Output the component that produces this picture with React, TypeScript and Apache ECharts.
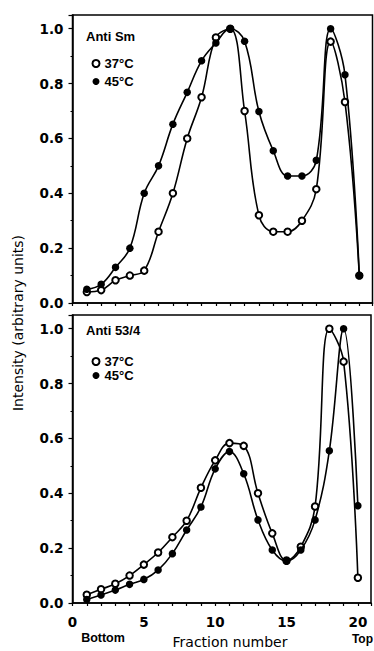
import React, { useEffect, useRef } from 'react';
import * as echarts from 'echarts';

// ---- data ----
const fractions = [1, 2, 3, 4, 5, 6, 7, 8, 9, 10, 11, 12, 13, 14, 15, 16, 17, 18, 19, 20];
const xTickLabels = ['0', '5', '10', '15', '20'];
const yTickLabels = ['0.0', '0.2', '0.4', '0.6', '0.8', '1.0'];
const seriesNames = ['37°C', '45°C'];
const panelTitles = ['Anti Sm', 'Anti 53/4'];

// Anti Sm panel
const sm37 = [0.04, 0.047, 0.083, 0.10, 0.118, 0.26, 0.40, 0.60, 0.75, 0.968, 1.0, 0.70, 0.32, 0.26, 0.26, 0.30, 0.415, 0.953, 0.733, 0.10];
const sm45 = [0.05, 0.068, 0.13, 0.20, 0.40, 0.50, 0.652, 0.768, 0.883, 0.948, 1.0, 0.954, 0.698, 0.555, 0.463, 0.463, 0.52, 1.0, 0.832, 0.10];

// Anti 53/4 panel
const a37 = [0.03, 0.05, 0.07, 0.10, 0.14, 0.184, 0.24, 0.30, 0.42, 0.52, 0.583, 0.573, 0.40, 0.254, 0.155, 0.205, 0.352, 1.0, 0.88, 0.092];
const a45 = [0.013, 0.029, 0.047, 0.068, 0.086, 0.12, 0.18, 0.266, 0.35, 0.489, 0.552, 0.471, 0.303, 0.193, 0.152, 0.193, 0.303, 0.555, 1.0, 0.355];

const pairs = (ys: number[]) => fractions.map((x, i) => [x, ys[i]]);

const TICK_FONT = '"DejaVu Sans", sans-serif';
const TEXT_FONT = '"Liberation Sans", Arial, sans-serif';

function buildOption() {
  const grids = [
    { left: 72.5, top: 15, width: 300, height: 288 },
    { left: 72.5, top: 315, width: 300, height: 288 },
  ].map((g) => ({ ...g, show: true, borderColor: '#000', borderWidth: 1.5, backgroundColor: 'transparent' }));

  const xAxes = [0, 1].map((gi) => ({
    type: 'value',
    gridIndex: gi,
    min: 0,
    max: 20.92,
    interval: 1,
    axisLine: { show: true, lineStyle: { color: '#000', width: 1.5 } },
    axisTick: { show: true, inside: false, length: 3, lineStyle: { color: '#000', width: 1.2 } },
    splitLine: { show: false },
    axisLabel: {
      show: gi === 1,
      margin: 12,
      color: '#000',
      fontFamily: TICK_FONT,
      fontWeight: 'bold',
      fontSize: 13.5,
      formatter: (v: number) => (xTickLabels.includes(String(v)) ? String(v) : ''),
    },
  }));

  const yAxes: any[] = [];
  [0, 1].forEach((gi) => {
    yAxes.push({
      type: 'value',
      gridIndex: gi,
      position: 'left',
      min: 0,
      max: 1.05,
      interval: 0.2,
      axisLine: { show: true, lineStyle: { color: '#000', width: 1.5 } },
      axisTick: { show: true, inside: false, length: 4, lineStyle: { color: '#000', width: 1.2 } },
      splitLine: { show: false },
      axisLabel: {
        margin: 9,
        color: '#000',
        fontFamily: TICK_FONT,
        fontWeight: 'bold',
        fontSize: 13.5,
        formatter: (v: number) => {
          const s = v.toFixed(1);
          return yTickLabels.includes(s) && Math.abs(parseFloat(s) - v) < 1e-6 ? s : '';
        },
      },
    });
    yAxes.push({
      type: 'value',
      gridIndex: gi,
      position: 'left',
      min: 0,
      max: 1.05,
      interval: 0.1,
      axisLine: { show: false },
      axisTick: { show: true, inside: false, length: 2, lineStyle: { color: '#000', width: 1 } },
      splitLine: { show: false },
      axisLabel: { show: false },
    });
  });

  const panels = [
    [sm37, sm45],
    [a37, a45],
  ];
  const series: any[] = [];
  panels.forEach((pair, gi) => {
    pair.forEach((ys, si) => {
      series.push({
        type: 'line',
        name: seriesNames[si],
        xAxisIndex: gi,
        yAxisIndex: gi * 2,
        data: pairs(ys),
        smooth: 0.4,
        symbol: si === 0 ? 'emptyCircle' : 'circle',
        symbolSize: si === 0 ? 6.5 : 7.5,
        showSymbol: true,
        color: '#000',
        itemStyle: si === 0 ? { color: '#000', borderColor: '#000', borderWidth: 1.5 } : { color: '#000' },
        lineStyle: { color: '#000', width: 1.6 },
        z: 2 + si,
      });
    });
  });

  const legends = [
    { top: 52, itemGap: 5 },
    { top: 350, itemGap: 1 },
  ].map((l) => ({
    show: true,
    orient: 'vertical',
    left: 86.5,
    top: l.top,
    itemGap: l.itemGap,
    itemWidth: 7,
    itemHeight: 7,
    selectedMode: false,
    textStyle: { color: '#000', fontFamily: TEXT_FONT, fontWeight: 'bold', fontSize: 13 },
    data: [
      { name: seriesNames[0], icon: 'emptyCircle', itemStyle: { color: '#000', borderColor: '#000', borderWidth: 1.5 } },
      { name: seriesNames[1], icon: 'circle', itemStyle: { color: '#000' } },
    ],
  }));

  const graphic: any[] = [
    {
      type: 'text',
      x: 86,
      y: 36,
      style: { text: panelTitles[0], font: `bold 13px ${TEXT_FONT}`, fill: '#000', textAlign: 'left', textVerticalAlign: 'middle' },
    },
    {
      type: 'text',
      x: 86,
      y: 330,
      style: { text: panelTitles[1], font: `bold 13px ${TEXT_FONT}`, fill: '#000', textAlign: 'left', textVerticalAlign: 'middle' },
    },
    {
      type: 'text',
      x: 18,
      y: 323,
      rotation: Math.PI / 2,
      style: { text: 'Intensity (arbitrary units)', font: `14px ${TICK_FONT}`, fill: '#000', textAlign: 'center', textVerticalAlign: 'middle' },
    },
    {
      type: 'text',
      x: 230,
      y: 642,
      style: { text: 'Fraction number', font: `14px ${TICK_FONT}`, fill: '#000', textAlign: 'center', textVerticalAlign: 'middle' },
    },
    {
      type: 'text',
      x: 103,
      y: 638,
      style: { text: 'Bottom', font: `bold 12.5px ${TEXT_FONT}`, fill: '#000', textAlign: 'center', textVerticalAlign: 'middle' },
    },
    {
      type: 'text',
      x: 373,
      y: 639,
      style: { text: 'Top', font: `bold 12px ${TEXT_FONT}`, fill: '#000', textAlign: 'right', textVerticalAlign: 'middle' },
    },
  ];

  return {
    animation: false,
    backgroundColor: '#fff',
    grid: grids,
    xAxis: xAxes,
    yAxis: yAxes,
    legend: legends,
    series,
    graphic,
  };
}

export default function App() {
  const ref = useRef<HTMLDivElement>(null);
  useEffect(() => {
    if (!ref.current) return;
    const chart = echarts.init(ref.current, undefined, { renderer: 'svg' });
    chart.setOption(buildOption() as any);
    return () => chart.dispose();
  }, []);
  return <div ref={ref} style={{ position: 'absolute', left: 0, top: 0, width: 374, height: 651 }} />;
}
